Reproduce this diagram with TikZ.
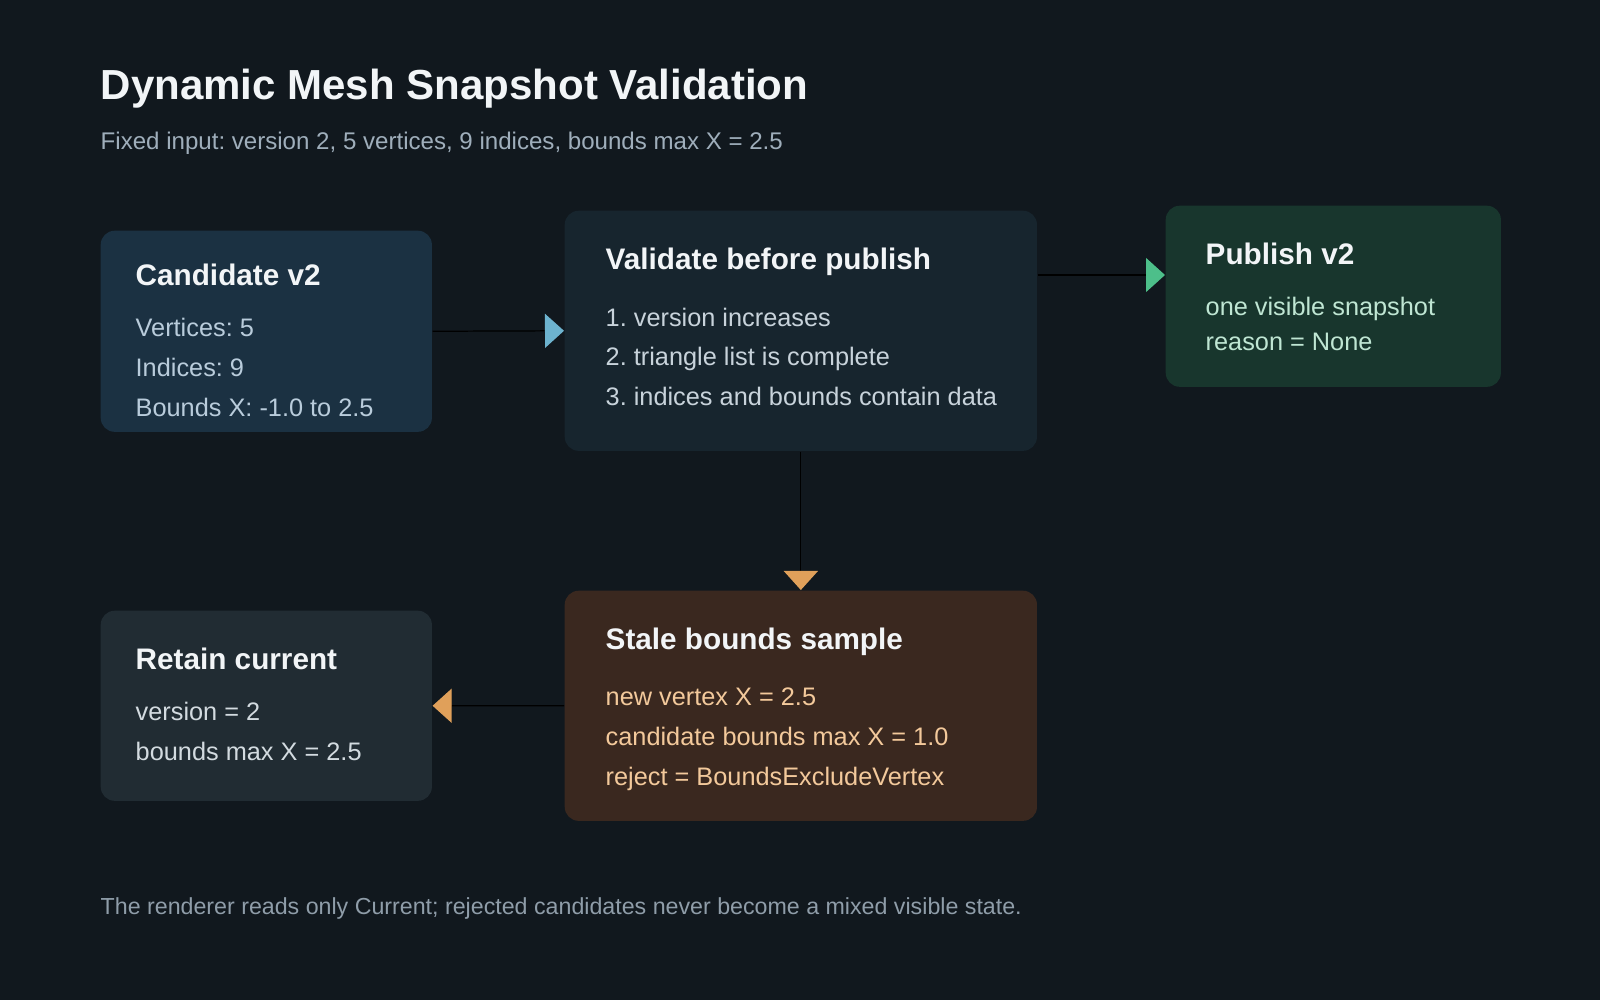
\documentclass[tikz,border=0pt]{standalone}
\usepackage{fontspec}
\setmainfont{Liberation Sans}
\usepackage{tikz}
\usetikzlibrary{shapes,arrows,arrows.meta}
\usetikzlibrary{calc}
\frenchspacing

\definecolor{bgcol}{HTML}{11181E}
\definecolor{candfill}{HTML}{1B3142}
\definecolor{valfill}{HTML}{17252E}
\definecolor{pubfill}{HTML}{18362D}
\definecolor{stalefill}{HTML}{3A281F}
\definecolor{retfill}{HTML}{212C33}
\definecolor{headcol}{HTML}{F2F5F7}
\definecolor{candtext}{HTML}{B9CCDB}
\definecolor{valtext}{HTML}{C8D3DB}
\definecolor{pubtext}{HTML}{BFE6D3}
\definecolor{staletext}{HTML}{F3C99B}
\definecolor{rettext}{HTML}{D3DBE0}
\definecolor{subcol}{HTML}{9FAEBB}
\definecolor{footcol}{HTML}{8F9DA9}
\definecolor{tipblue}{HTML}{6DB3CF}
\definecolor{tipgreen}{HTML}{4DBF8A}
\definecolor{tiporange}{HTML}{E0A05A}

\tikzset{
	card/.style={anchor=north west, inner sep=0pt, rounded corners=0.14cm},
	cardhead/.style={anchor=base west, inner sep=0pt, text=headcol, font=\bfseries\fontsize{8.45}{10}\selectfont},
	cardline/.style={anchor=base west, inner sep=0pt, font=\fontsize{7.2}{8.6}\selectfont},
	flow/.style={draw=black, line width=0.35pt},
	tipof/.style={-{Triangle[length=0.19cm,width=0.34cm,color=#1]}}
}

\begin{document}
\begin{tikzpicture}[x=0.01cm,y=-0.01cm]
	\fill[bgcol] (0,0) rectangle (1600,1000);
	% heading
	\node[anchor=base west, inner sep=0pt, text=headcol, font=\bfseries\fontsize{11.95}{14}\selectfont] (title) at (100,100) {Dynamic Mesh Snapshot Validation};
	\node[anchor=base west, inner sep=0pt, text=subcol, font=\fontsize{6.85}{8}\selectfont] (subtitle) at (100,149) {Fixed input: version 2, 5 vertices, 9 indices, bounds max X = 2.5};
	% cards
	\node[card, fill=candfill, minimum width=3.31cm, minimum height=2.01cm] (cand) at (100,230) {};
	\node[card, fill=valfill, minimum width=4.72cm, minimum height=2.40cm] (val) at (564,210) {};
	\node[card, fill=pubfill, minimum width=3.35cm, minimum height=1.81cm] (pub) at (1165,205) {};
	\node[card, fill=stalefill, minimum width=4.72cm, minimum height=2.30cm] (stale) at (564,590) {};
	\node[card, fill=retfill, minimum width=3.31cm, minimum height=1.90cm] (ret) at (100,610) {};
	% card texts
	\node[cardhead] (candhead) at (135,285) {Candidate v2};
	\node[cardline, text=candtext] (cand1) at (135,336) {Vertices: 5};
	\node[cardline, text=candtext] (cand2) at (135,376) {Indices: 9};
	\node[cardline, text=candtext] (cand3) at (135,416) {Bounds X: -1.0 to 2.5};
	\node[cardhead] (valhead) at (605,269) {Validate before publish};
	\node[cardline, text=valtext] (val1) at (605,326) {1. version increases};
	\node[cardline, text=valtext] (val2) at (605,365) {2. triangle list is complete};
	\node[cardline, text=valtext] (val3) at (605,405) {3. indices and bounds contain data};
	\node[cardhead] (pubhead) at (1205,264) {Publish v2};
	\node[cardline, text=pubtext] (pub1) at (1205,315) {one visible snapshot};
	\node[cardline, text=pubtext] (pub2) at (1205,350) {reason = None};
	\node[cardhead] (stalehead) at (605,649) {Stale bounds sample};
	\node[cardline, text=staletext] (stale1) at (605,705) {new vertex X = 2.5};
	\node[cardline, text=staletext] (stale2) at (605,745) {candidate bounds max X = 1.0};
	\node[cardline, text=staletext] (stale3) at (605,785) {reject = BoundsExcludeVertex};
	\node[cardhead] (rethead) at (135,669) {Retain current};
	\node[cardline, text=rettext] (ret1) at (135,720) {version = 2};
	\node[cardline, text=rettext] (ret2) at (135,760) {bounds max X = 2.5};
	% flows
	\coordinate (pubrow) at (0,275);
	\draw[flow, tipof=tipblue] (cand.east) -- (val.west);
	\draw[flow, tipof=tipgreen] (val.east |- pubrow) -- (pub.west |- pubrow);
	\draw[flow, tipof=tiporange] (val.south) -- (stale.north);
	\draw[flow, tipof=tiporange] (stale.west) -- (ret.east);
	% footnote
	\node[anchor=base west, inner sep=0pt, text=footcol, font=\fontsize{6.6}{7.8}\selectfont] (foot) at (100,914) {The renderer reads only Current; rejected candidates never become a mixed visible state.};
\end{tikzpicture}
\end{document}
